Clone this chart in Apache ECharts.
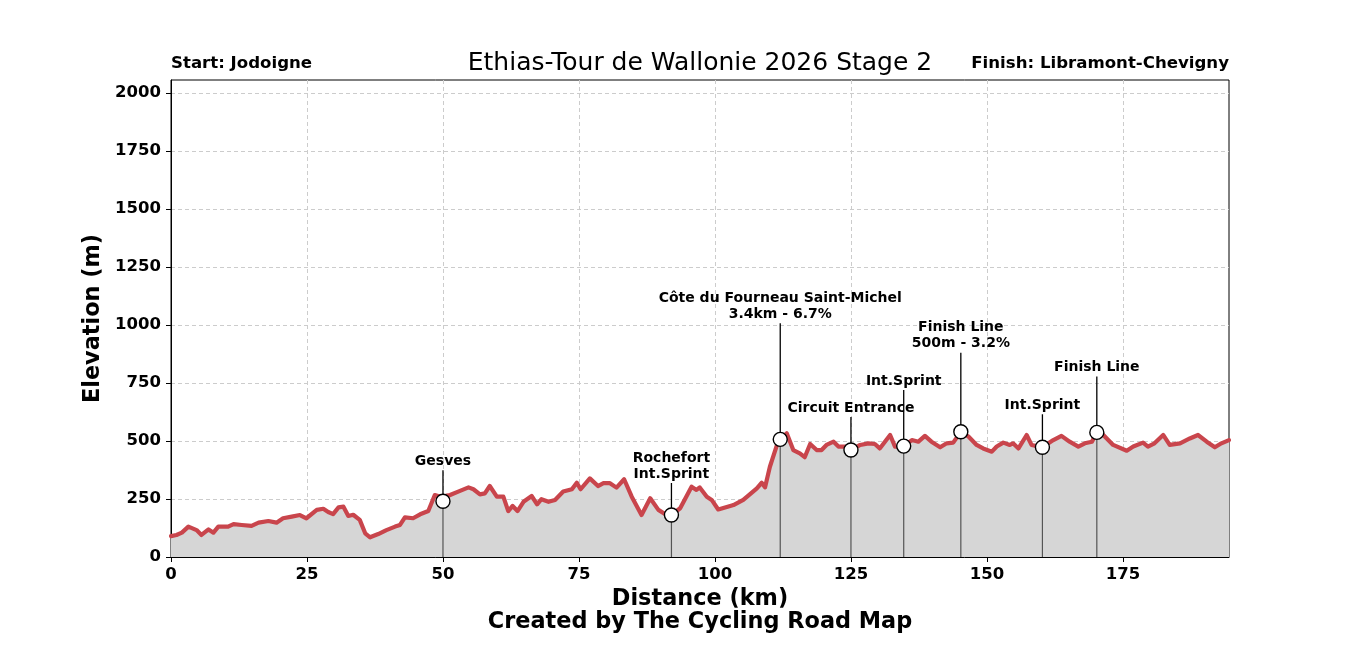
<!DOCTYPE html>
<html>
<head>
<meta charset="utf-8">
<script src="https://cdn.jsdelivr.net/npm/echarts@6/dist/echarts.min.js"></script>
<style>
  html, body { margin: 0; padding: 0; background: #fff; }
  #chart { width: 1366px; height: 655px; }
</style>
</head>
<body>
<div id="chart"></div>
<script>
// profile (km, metres)
const distKm = [0, 1, 2, 3.2, 4.7, 5.6, 6.9, 7.8, 8.7, 10.5, 11.5, 13, 14.8, 16.1, 17.9, 19.4, 20.6, 22.2, 23.7, 24.9,
  26.8, 28, 28.9, 29.8, 30.8, 31.7, 32.6, 33.5, 34.7, 35.7, 36.6, 38.1, 39.6, 41.2, 42.1, 43, 44.5, 45.8, 47.3, 48.5,
  49.3, 50, 50.7, 51.3, 52.8, 54.7, 55.6, 56.8, 57.7, 58.6, 59.9, 61.1, 62, 62.8, 63.7, 64.8, 66.3, 67.3, 68.1, 69.4,
  70.6, 72.1, 73.7, 74.6, 75.3, 77, 78.5, 79.5, 80.7, 81.9, 83.3, 84.7, 86.5, 88.1, 89.6, 91.1, 92, 93.6, 95.7, 96.6,
  97.2, 98.5, 99.4, 100.6, 102.8, 103.4, 105.2, 106.4, 107.7, 108.6, 109.2, 110.1, 111.3, 112, 113.2, 114.4, 115.6, 116.5, 117.5, 118.7,
  119.6, 120.5, 121.8, 122.7, 123.9, 125, 126.7, 128.2, 129.4, 130.3, 132.2, 133.1, 134.7, 136.2, 137.4, 138.6, 139.8, 141.4, 142.6, 143.8,
  145.2, 146.6, 148.1, 149.3, 150.9, 151.8, 153, 154.2, 154.8, 155.8, 157.3, 158.2, 160.2, 162.2, 163.7, 165.2, 166.8, 168, 169.3, 170.2,
  171.4, 173.2, 175.7, 176.9, 178.7, 179.6, 180.8, 182.4, 183.6, 185.5, 187.3, 188.8, 190.4, 191.9, 193.1, 194.5];
const elevM = [90, 95, 105, 131, 116, 95, 119, 105, 131, 131, 142, 138, 134, 148, 155, 148, 167, 174, 181, 167,
  203, 208, 194, 185, 214, 217, 177, 182, 160, 102, 85, 99, 116, 131, 138, 171, 167, 184, 198, 267,
  262, 240, 265, 267, 282, 300, 292, 270, 274, 306, 260, 260, 198, 220, 198, 238, 263, 227, 249, 238,
  246, 282, 292, 320, 292, 339, 306, 318, 318, 299, 335, 260, 181, 253, 203, 181, 181, 210, 303, 289,
  300, 260, 246, 205, 220, 224, 246, 270, 296, 320, 300, 389, 476, 507, 533, 461, 447, 430, 487, 461,
  461, 483, 497, 476, 476, 461, 483, 490, 487, 468, 526, 476, 478, 504, 497, 522, 497, 473, 490, 493,
  540, 519, 483, 468, 454, 476, 493, 483, 490, 468, 526, 483, 473, 504, 522, 497, 476, 490, 497, 537,
  526, 483, 458, 476, 493, 476, 490, 526, 483, 490, 511, 526, 497, 473, 490, 504];

// points of interest
const stopKm = [50, 92, 112, 125, 134.7, 145.2, 160.2, 170.2];
const stopElev = [240, 181, 507, 461, 478, 540, 473, 537];
const stopNames = ['Gesves', 'Rochefort\nInt.Sprint', 'Côte du Fourneau Saint-Michel\n3.4km - 6.7%', 'Circuit Entrance',
  'Int.Sprint', 'Finish Line\n500m - 3.2%', 'Int.Sprint', 'Finish Line'];

const xTicks = [0, 25, 50, 75, 100, 125, 150, 175];
const yTicks = [0, 250, 500, 750, 1000, 1250, 1500, 1750, 2000];

// how far (px) each label stem reaches above its marker
const stemPx = [31, 32, 116, 33, 56, 79, 33, 56];

const FONT = 'DejaVu Sans';
const chart = echarts.init(document.getElementById('chart'));

const option = {
  animation: false,
  backgroundColor: '#fff',
  grid: { left: 171, right: 137, top: 80, bottom: 98, show: true, borderColor: '#000', borderWidth: 1 },
  graphic: [
    { type: 'text', x: 700, y: 63, style: { text: 'Ethias-Tour de Wallonie 2026 Stage 2', font: '25px ' + FONT, fill: '#000', align: 'center', verticalAlign: 'middle' } },
    { type: 'text', x: 171, y: 64, style: { text: 'Start: Jodoigne', font: 'bold 16.6px ' + FONT, fill: '#000', align: 'left', verticalAlign: 'middle' } },
    { type: 'text', x: 1229, y: 64, style: { text: 'Finish: Libramont-Chevigny', font: 'bold 16.6px ' + FONT, fill: '#000', align: 'right', verticalAlign: 'middle' } },
    { type: 'text', x: 700, y: 622, style: { text: 'Created by The Cycling Road Map', font: 'bold 22.4px ' + FONT, fill: '#000', align: 'center', verticalAlign: 'middle' } }
  ],
  xAxis: {
    type: 'value', min: 0, max: 194.5,
    name: 'Distance (km)', nameLocation: 'middle', nameGap: 31,
    nameTextStyle: { fontFamily: FONT, fontSize: 22.4, fontWeight: 'bold', color: '#000' },
    axisLine: { lineStyle: { color: '#000', width: 1 } },
    axisTick: { show: true, length: 5, lineStyle: { color: '#000' }, customValues: xTicks },
    axisLabel: { fontFamily: FONT, fontSize: 16.5, fontWeight: 'bold', color: '#000', margin: 9, customValues: xTicks },
    splitLine: { show: true, lineStyle: { color: '#cccccc', type: [4, 3], width: 1 } }
  },
  yAxis: {
    type: 'value', min: 0, max: 2056,
    name: 'Elevation (m)', nameLocation: 'middle', nameGap: 51, nameRotate: 90,
    nameTextStyle: { fontFamily: FONT, fontSize: 22.4, fontWeight: 'bold', color: '#000' },
    axisLine: { show: true, lineStyle: { color: '#000', width: 1 } },
    axisTick: { show: true, length: 5, lineStyle: { color: '#000' }, customValues: yTicks },
    axisLabel: { fontFamily: FONT, fontSize: 16.5, fontWeight: 'bold', color: '#000', margin: 10, customValues: yTicks,
      formatter: v => String(v) },
    splitLine: { show: true, lineStyle: { color: '#cccccc', type: [4, 3], width: 1 } }
  },
  series: [
    {
      type: 'line',
      data: distKm.map((d, i) => [d, elevM[i]]),
      showSymbol: false,
      smooth: false,
      lineStyle: { color: '#c9454c', width: 4.2, join: 'round', cap: 'round' },
      areaStyle: { color: '#d6d6d6', opacity: 1 },
      z: 2
    },
    {
      type: 'custom',
      data: stopKm.map((d, i) => [d, stopElev[i], i]),
      z: 5,
      renderItem: function (params, api) {
        const i = api.value(2);
        const p = api.coord([api.value(0), api.value(1)]);
        const base = api.coord([api.value(0), 0]);
        const top = p[1] - stemPx[i];
        return {
          type: 'group',
          children: [
            { type: 'line', shape: { x1: p[0], y1: p[1], x2: base[0], y2: base[1] }, style: { stroke: '#555', lineWidth: 1.2 } },
            { type: 'line', shape: { x1: p[0], y1: p[1], x2: p[0], y2: top }, style: { stroke: '#000', lineWidth: 1.3 } },
            { type: 'circle', shape: { cx: p[0], cy: p[1], r: 7 }, style: { fill: '#fff', stroke: '#000', lineWidth: 1.4 } },
            { type: 'text', x: p[0], y: top - 1,
              style: { text: stopNames[i], font: 'bold 14px ' + FONT, fill: '#000', align: 'center', verticalAlign: 'bottom', lineHeight: 16 } }
          ]
        };
      }
    }
  ]
};
chart.setOption(option);
</script>
</body>
</html>
